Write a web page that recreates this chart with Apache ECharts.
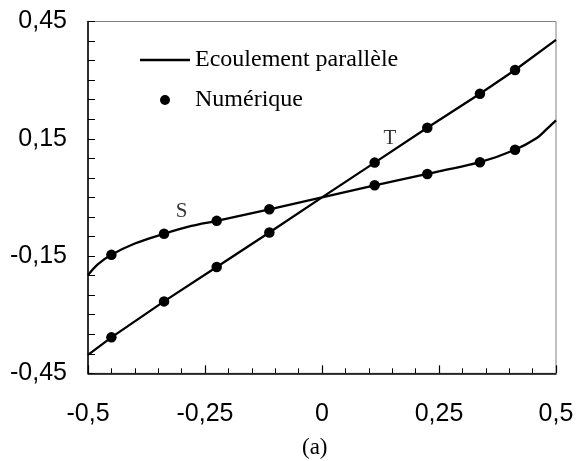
<!DOCTYPE html>
<html>
<head>
<meta charset="utf-8">
<script src="https://cdn.jsdelivr.net/npm/echarts@6/dist/echarts.min.js"></script>
<style>html,body{margin:0;padding:0;background:#fff;}#c{width:577px;height:461px;}</style>
</head>
<body>
<div id="c"></div>
<script>
// Analytic curves (Ecoulement parallèle)
var tLineX = [-0.5, -0.45, -0.3375, -0.225, -0.1125, 0, 0.1125, 0.225, 0.3375, 0.4125, 0.5];
var tLineY = [-0.403, -0.358, -0.266, -0.178, -0.09, 0, 0.089, 0.178, 0.265, 0.326, 0.403];
var sLineX = [-0.5, -0.4786, -0.45, -0.4, -0.3375, -0.279, -0.225, -0.1125, 0, 0.1125, 0.225, 0.2518, 0.3375, 0.4125, 0.459, 0.48, 0.5];
var sLineY = [-0.199, -0.171, -0.147, -0.118, -0.093, -0.073, -0.06, -0.0305, 0, 0.031, 0.06, 0.067, 0.09, 0.122, 0.152, 0.1745, 0.197];
// Numerical points
var numX = [-0.45, -0.3375, -0.225, -0.1125, 0.1125, 0.225, 0.3375, 0.4125];
var tNumY = [-0.358, -0.266, -0.178, -0.09, 0.089, 0.178, 0.265, 0.326];
var sNumY = [-0.147, -0.093, -0.06, -0.0305, 0.031, 0.06, 0.09, 0.122];
// Annotations
var annotNames = ['T', 'S'];
var annotX = [0.145, -0.3];
var annotY = [0.15, -0.035];
// Tick labels
var xTickValues = [-0.5, -0.25, 0, 0.25, 0.5];
var xTickLabels = ['-0,5', '-0,25', '0', '0,25', '0,5'];
var yTickValues = [-0.45, -0.15, 0.15, 0.45];
var yTickLabels = ['-0,45', '-0,15', '0,15', '0,45'];
var legendNames = ['Ecoulement parallèle', 'Numérique'];
var caption = '(a)';

function zip(xs, ys) { return xs.map(function (x, i) { return [x, ys[i]]; }); }
function findLabel(v, vals, labels) {
  for (var i = 0; i < vals.length; i++) if (Math.abs(v - vals[i]) < 1e-6) return labels[i];
  return '';
}

var chart = echarts.init(document.getElementById('c'));
chart.setOption({
  animation: false,
  backgroundColor: '#fff',
  grid: { left: 88, right: 21, top: 21.5, bottom: 87.7, show: true, borderColor: '#808080', borderWidth: 1, backgroundColor: 'transparent' },
  legend: {
    data: [
      { name: legendNames[0], icon: 'path://M0,0 L50,0 L50,2.4 L0,2.4 Z' },
      { name: legendNames[1], icon: 'circle' }
    ],
    orient: 'vertical',
    left: 140,
    top: 48,
    padding: 0,
    itemWidth: 50,
    itemHeight: 10,
    itemGap: 16,
    textStyle: { fontFamily: 'Liberation Serif', fontSize: 24, color: '#000' }
  },
  xAxis: {
    type: 'value', min: -0.5, max: 0.5, interval: 0.25,
    axisLine: { show: true, onZero: false, lineStyle: { color: '#000', width: 1.5 } },
    axisTick: { show: true, inside: true, length: 8, lineStyle: { color: '#000', width: 1.2 } },
    minorTick: { show: true, splitNumber: 5, length: 5, lineStyle: { color: '#000', width: 1 } },
    splitLine: { show: false },
    axisLabel: { margin: 28, fontFamily: 'Liberation Sans', fontSize: 25, color: '#000',
      formatter: function (v) { return findLabel(v, xTickValues, xTickLabels); } }
  },
  yAxis: {
    type: 'value', min: -0.45, max: 0.45, interval: 0.05,
    axisLine: { show: true, onZero: false, lineStyle: { color: '#000', width: 1.5 } },
    axisTick: { show: true, inside: true, length: 7, lineStyle: { color: '#000', width: 1 } },
    splitLine: { show: false },
    axisLabel: { margin: 21, fontFamily: 'Liberation Sans', fontSize: 25, color: '#000', showMinLabel: true, showMaxLabel: true,
      formatter: function (v) { return findLabel(v, yTickValues, yTickLabels); } }
  },
  series: [
    { name: legendNames[0], type: 'line', data: zip(tLineX, tLineY), symbol: 'none', smooth: false,
      lineStyle: { color: '#000', width: 2.3 }, itemStyle: { color: '#000' } },
    { name: legendNames[0], type: 'line', data: zip(sLineX, sLineY), symbol: 'none', smooth: 0.35,
      lineStyle: { color: '#000', width: 2.3 }, itemStyle: { color: '#000' } },
    { name: legendNames[1], type: 'scatter', data: zip(numX, tNumY), symbol: 'circle', symbolSize: 10.5,
      itemStyle: { color: '#000', opacity: 1 } },
    { name: legendNames[1], type: 'scatter', data: zip(numX, sNumY), symbol: 'circle', symbolSize: 10.5,
      itemStyle: { color: '#000', opacity: 1 } },
    { name: 'annot', type: 'scatter', symbolSize: 0, silent: true,
      data: annotX.map(function (x, i) { return { value: [x, annotY[i]], name: annotNames[i] }; }),
      label: { show: true, position: 'inside', formatter: '{b}', fontFamily: 'Liberation Serif', fontSize: 21, color: '#000' } }
  ],
  graphic: [
    { type: 'text', left: 302, top: 436, style: { text: caption, font: '23px "Liberation Serif"', fill: '#000' } }
  ]
});
</script>
</body>
</html>
